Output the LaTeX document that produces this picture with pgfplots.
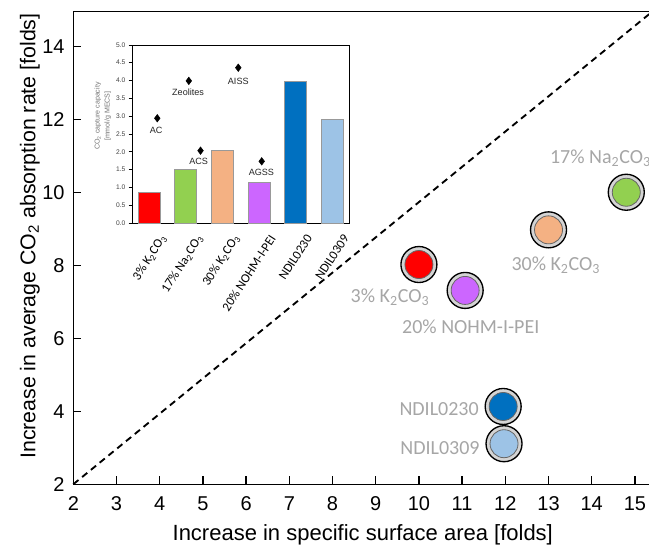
\documentclass[border=0pt]{standalone}
\usepackage{fontspec}
\setmainfont{Liberation Sans}
\newfontfamily\carl{Carlito}
\usepackage{pgfplots}
\pgfplotsset{compat=1.18}
\definecolor{cred}{HTML}{FF0000}
\definecolor{cgreen}{HTML}{92D050}
\definecolor{corange}{HTML}{F4B183}
\definecolor{cpurple}{HTML}{CC66FF}
\definecolor{cdblue}{HTML}{0070C0}
\definecolor{clblue}{HTML}{9DC3E6}
\definecolor{ring}{HTML}{D4D4D4}
\definecolor{lblgray}{HTML}{A6A6A6}
\begin{document}
\begin{tikzpicture}
\path[use as bounding box] (-55pt,-47pt) rectangle (431.8pt,363.2pt);
\begin{axis}[
  at={(0,0)}, anchor=south west, scale only axis,
  width=434.2pt, height=354.5pt,
  xmin=2, xmax=15.4, ymin=2, ymax=14.95,
  xtick={2,3,...,15}, ytick={2,4,...,14},
  tick align=inside, tick pos=left,
  major tick length=6pt,
  every tick/.style={black, line width=1pt},
  axis line style={line width=1pt},
  tick label style={font=\fontsize{15}{18}\selectfont},
  xticklabel style={yshift=-6pt},
  yticklabel style={xshift=-3pt},
  /pgf/number format/assume math mode=true,
  xlabel={Increase in specific surface area [folds]},
  ylabel={Increase in average CO\textsubscript{2} absorption rate [folds]},
  xlabel style={font=\fontsize{16.5}{20}\selectfont, at={(axis description cs:0.5,0)}, anchor=center, yshift=-38pt},
  ylabel style={font=\fontsize{16}{20}\selectfont, at={(axis description cs:-0.075,0.525)}, anchor=center},
  clip=false,
]
\addplot[black, line width=1.4pt, dash pattern=on 5pt off 3.5pt] coordinates {(2,2) (15.35,14.9)};
% outer rings
\addplot[only marks, mark=*, mark size=13.5pt, mark options={fill=ring, draw=black, line width=1pt}]
  coordinates {(10,8.02) (11.07,7.31) (13,8.97) (14.8,10.0) (11.95,4.13) (11.97,3.11)};
\addplot[only marks, mark=*, mark size=10.5pt, mark options={fill=cred, draw=black!60, line width=0.6pt}] coordinates {(10,8.02)};
\addplot[only marks, mark=*, mark size=10.5pt, mark options={fill=cpurple, draw=black!60, line width=0.6pt}] coordinates {(11.07,7.31)};
\addplot[only marks, mark=*, mark size=10.5pt, mark options={fill=corange, draw=black!60, line width=0.6pt}] coordinates {(13,8.97)};
\addplot[only marks, mark=*, mark size=10.5pt, mark options={fill=cgreen, draw=black!60, line width=0.6pt}] coordinates {(14.8,10.0)};
\addplot[only marks, mark=*, mark size=10.5pt, mark options={fill=cdblue, draw=black!60, line width=0.6pt}] coordinates {(11.95,4.13)};
\addplot[only marks, mark=*, mark size=10.5pt, mark options={fill=clblue, draw=black!60, line width=0.6pt}] coordinates {(11.97,3.11)};
\begin{scope}[every node/.style={text=lblgray, font=\carl\fontsize{15}{18}\selectfont, inner sep=0pt}]
\node[anchor=west] at (axis cs:13.03,10.94) {17\% Na\textsubscript{2}CO\textsubscript{3}};
\node[anchor=center] at (axis cs:13.17,8.01) {30\% K\textsubscript{2}CO\textsubscript{3}};
\node[anchor=center] at (axis cs:9.33,7.13) {3\% K\textsubscript{2}CO\textsubscript{3}};
\node[anchor=center] at (axis cs:11.2,6.31) {20\% NOHM-I-PEI};
\node[anchor=east] at (axis cs:11.39,4.06) {NDIL0230};
\node[anchor=east] at (axis cs:11.41,3.0) {NDIL0309};
\end{scope}
\end{axis}
\begin{axis}[
  at={(44pt,196pt)}, anchor=south west, scale only axis,
  width=162.75pt, height=133.5pt,
  xmin=-0.46, xmax=5.46, ymin=0, ymax=5,
  axis background/.style={fill=white},
  axis line style={line width=0.6pt},
  ytick={0,0.5,1,1.5,2,2.5,3,3.5,4,4.5,5},
  yticklabel style={/pgf/number format/fixed, /pgf/number format/fixed zerofill, /pgf/number format/precision=1},
  yticklabel style={font=\fontsize{5}{6}\selectfont, text=black!75, xshift=1pt},
  ytick style={black, line width=0.5pt},
  tick align=outside, major tick length=2.5pt,
  ytick pos=left,
  xtick={0,1,2,3,4,5},
  xtick style={draw=none},
  xticklabels={{3\% K\textsubscript{2}CO\textsubscript{3}},{17\% Na\textsubscript{2}CO\textsubscript{3}},{30\% K\textsubscript{2}CO\textsubscript{3}},{20\% NOHM-I-PEI},{NDIL0230},{NDIL0309}},
  xticklabel style={rotate=57, anchor=north east, font=\carl\fontsize{9.6}{11}\selectfont, yshift=-6pt, xshift=3pt},
  /pgf/number format/assume math mode=true,
  clip=false,
]
\addplot[ybar, bar width=0.6, bar shift=0pt, fill=cred, draw=black!40, line width=0.4pt] coordinates {(0,0.87)};
\addplot[ybar, bar width=0.6, bar shift=0pt, fill=cgreen, draw=black!40, line width=0.4pt] coordinates {(1,1.50)};
\addplot[ybar, bar width=0.6, bar shift=0pt, fill=corange, draw=black!40, line width=0.4pt] coordinates {(2,2.04)};
\addplot[ybar, bar width=0.6, bar shift=0pt, fill=cpurple, draw=black!40, line width=0.4pt] coordinates {(3,1.15)};
\addplot[ybar, bar width=0.6, bar shift=0pt, fill=cdblue, draw=black!40, line width=0.4pt] coordinates {(4,3.97)};
\addplot[ybar, bar width=0.6, bar shift=0pt, fill=clblue, draw=black!40, line width=0.4pt] coordinates {(5,2.91)};
\addplot[only marks, mark=diamond*, mark size=2.8pt, black] coordinates {(0.23,2.94) (1.09,3.99) (1.41,2.03) (2.44,4.36) (3.08,1.73)};
\begin{scope}[every node/.style={font=\fontsize{6.8}{7}\selectfont, text=black!85, inner sep=0pt}]
\node at (axis cs:0.2,2.61) {AC};
\node at (axis cs:1.07,3.67) {Zeolites};
\node at (axis cs:1.36,1.74) {ACS};
\node at (axis cs:2.44,3.97) {AISS};
\node at (axis cs:3.07,1.41) {AGSS};
\end{scope}
\node[rotate=90, align=center, text=black!55, font=\fontsize{5.3}{7.5}\selectfont] at (axis description cs:-0.135,0.6) {CO\textsubscript{2} capture capacity\\{[mmol/g MECS]}};
\end{axis}
\end{tikzpicture}
\end{document}
